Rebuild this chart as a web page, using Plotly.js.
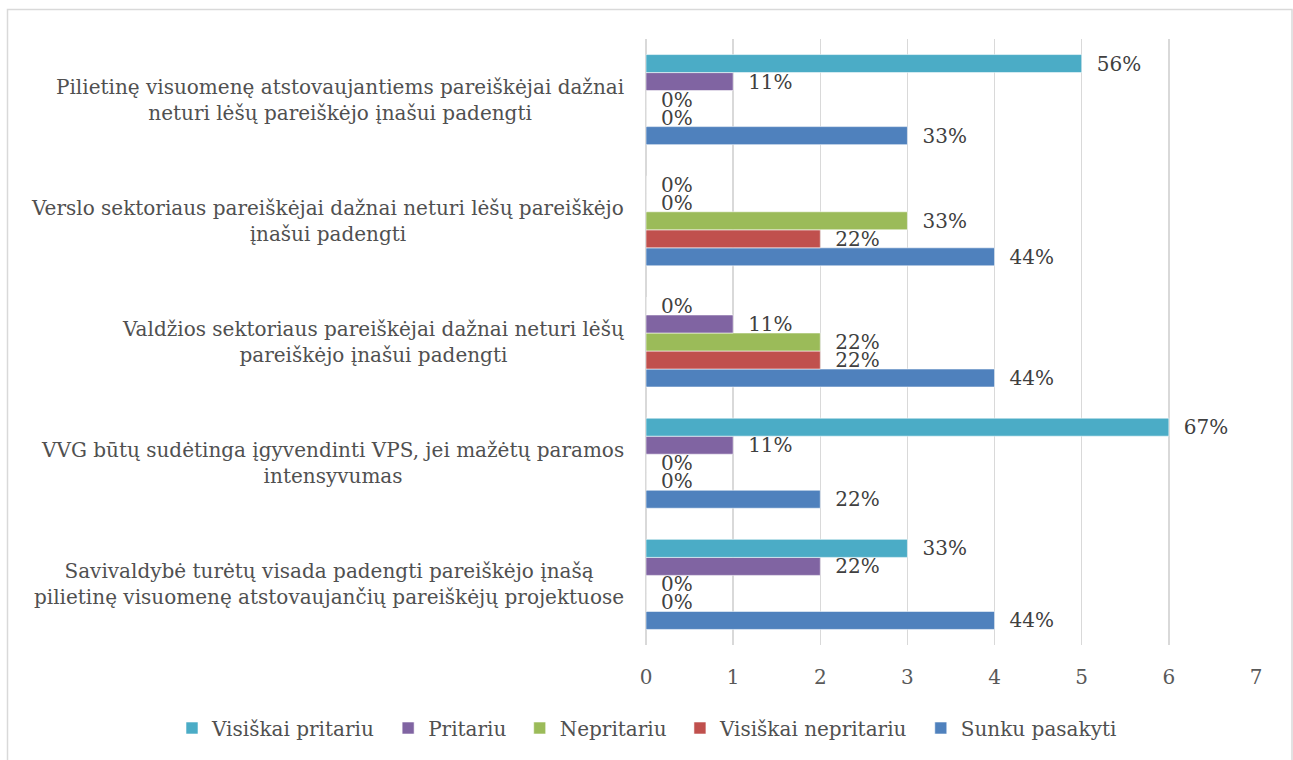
<!DOCTYPE html>
<html>
<head>
<meta charset="utf-8">
<script src="https://cdn.plot.ly/plotly-3.0.1.min.js"></script>
<style>
  html, body { margin: 0; padding: 0; background: #ffffff; }
  #chart { width: 1293px; height: 760px; }
</style>
</head>
<body>
<div id="chart"></div>
<script>
// Categories, listed bottom to top
const categories = [
  "Savivaldybė turėtų visada padengti pareiškėjo įnašą<br>pilietinę visuomenę atstovaujančių pareiškėjų projektuose",
  "VVG būtų sudėtinga įgyvendinti VPS, jei mažėtų paramos<br>intensyvumas",
  "Valdžios sektoriaus pareiškėjai dažnai neturi lėšų<br>pareiškėjo įnašui padengti",
  "Verslo sektoriaus pareiškėjai dažnai neturi lėšų pareiškėjo<br>įnašui padengti",
  "Pilietinę visuomenę atstovaujantiems pareiškėjai dažnai<br>neturi lėšų pareiškėjo įnašui padengti"
];
const categoryIds = ["c1", "c2", "c3", "c4", "c5"];

// Series (counts) and their percentage labels, same order as categories
const seriesNames = ["Sunku pasakyti", "Visiškai nepritariu", "Nepritariu", "Pritariu", "Visiškai pritariu"];
const sunkuPasakyti      = [4, 2, 4, 4, 3];
const visiskaiNepritariu = [0, 0, 2, 2, 0];
const nepritariu         = [0, 0, 2, 3, 0];
const pritariu           = [2, 1, 1, 0, 1];
const visiskaiPritariu   = [3, 6, 0, 0, 5];

const sunkuPasakytiLbl      = ["44%", "22%", "44%", "44%", "33%"];
const visiskaiNepritariuLbl = ["0%", "0%", "22%", "22%", "0%"];
const nepritariuLbl         = ["0%", "0%", "22%", "33%", "0%"];
const pritariuLbl           = ["22%", "11%", "11%", "0%", "11%"];
const visiskaiPritariuLbl   = ["33%", "67%", "0%", "0%", "56%"];

const xTicks = [0, 1, 2, 3, 4, 5, 6, 7];

const seriesValues = [sunkuPasakyti, visiskaiNepritariu, nepritariu, pritariu, visiskaiPritariu];
const seriesLabels = [sunkuPasakytiLbl, visiskaiNepritariuLbl, nepritariuLbl, pritariuLbl, visiskaiPritariuLbl];
const seriesColors = ["#4F81BD", "#C0504D", "#9BBB59", "#8064A2", "#4BACC6"];

const FONT = "'DejaVu Serif', 'Liberation Serif', serif";
const FS = 20;
const PAD = "\u2002\u200a";
const LEGEND_PAD = "\u00a0\u200a";

const traces = seriesNames.map((name, i) => ({
  type: "bar",
  orientation: "h",
  name: name + LEGEND_PAD,
  y: categoryIds,
  x: seriesValues[i],
  text: seriesLabels[i].map(t => PAD + t),
  textposition: "outside",
  constraintext: "none",
  cliponaxis: false,
  textfont: { family: FONT, size: FS, color: "#404040" },
  marker: { color: seriesColors[i], line: { color: "rgba(255,255,255,0.7)", width: 0.8 } },
  hoverinfo: "x+name"
}));

const annotations = categoryIds.map((id, i) => ({
  xref: "paper", yref: "y",
  x: -0.033, y: id,
  xanchor: "right", yanchor: "middle",
  align: "center",
  text: categories[i],
  showarrow: false,
  font: { family: FONT, size: FS, color: "#505050" }
}));

const layout = {
  width: 1293, height: 760,
  margin: { l: 646, r: 37, t: 39, b: 115, pad: 0 },
  paper_bgcolor: "#ffffff",
  plot_bgcolor: "#ffffff",
  barmode: "group",
  bargap: 0.257,
  bargroupgap: 0,
  showlegend: true,
  legend: {
    orientation: "h",
    traceorder: "reversed",
    xref: "paper", yref: "paper",
    x: (172 - 646) / 610, xanchor: "left",
    y: (645 - 728) / 606, yanchor: "middle",
    itemwidth: 30,
    bgcolor: "rgba(0,0,0,0)",
    font: { family: FONT, size: FS, color: "#505050" },
    itemclick: false
  },
  xaxis: {
    range: [0, 7],
    tickvals: xTicks,
    ticktext: xTicks.map(String),
    showgrid: true,
    gridcolor: "#d9d9d9",
    gridwidth: 1.5,
    zeroline: true,
    zerolinecolor: "#d9d9d9",
    zerolinewidth: 1.5,
    showline: false,
    ticks: "",
    ticklabelstandoff: 18,
    tickfont: { family: FONT, size: FS, color: "#595959" }
  },
  yaxis: {
    type: "category",
    categoryorder: "array",
    categoryarray: categoryIds,
    range: [-0.5, 4.5],
    showticklabels: false,
    showgrid: false,
    zeroline: false,
    ticks: ""
  },
  annotations: annotations,
  shapes: [{
    type: "rect", xref: "paper", yref: "paper",
    x0: (7.5 - 646) / 610, x1: (1292 - 646) / 610,
    y0: (645 - 775) / 606, y1: (645 - 9.5) / 606,
    line: { color: "#d9d9d9", width: 1.5 },
    fillcolor: "rgba(0,0,0,0)",
    layer: "below"
  }]
};

Plotly.newPlot("chart", traces, layout, { displayModeBar: false, staticPlot: true });
</script>
</body>
</html>
